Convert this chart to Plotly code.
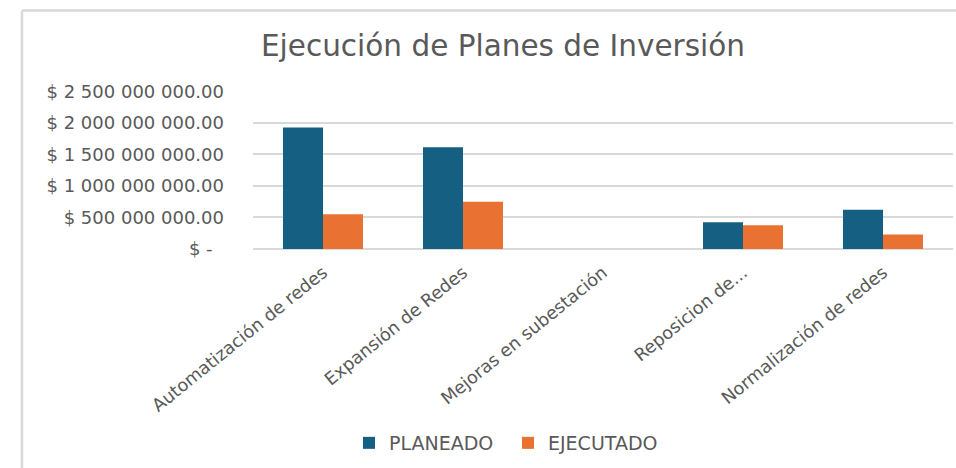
import plotly.graph_objects as go

categorias = ["Automatización de redes", "Expansión de Redes", "Mejoras en subestación",
              "Reposicion de...", "Normalización de redes"]
planeado = [1.927e9, 1.613e9, 0, 0.425e9, 0.621e9]
ejecutado = [0.553e9, 0.748e9, 0, 0.377e9, 0.228e9]
y_ticks = [0, 0.5e9, 1.0e9, 1.5e9, 2.0e9, 2.5e9]
y_ticktext = ["$ -\u00a0\u00a0", "$ 500 000 000.00", "$ 1 000 000 000.00", "$ 1 500 000 000.00",
              "$ 2 000 000 000.00", "$ 2 500 000 000.00"]

W, H = 956, 468
L, R, T, B = 253, 953, 92, 249
GRAY_TXT = "#595959"
GRID = "#D9D9D9"
FONT = "DejaVu Sans"

fig = go.Figure()
fig.add_trace(go.Bar(name="PLANEADO", x=categorias, y=planeado,
                     marker=dict(color="#156082", line=dict(width=0))))
fig.add_trace(go.Bar(name="EJECUTADO", x=categorias, y=ejecutado,
                     marker=dict(color="#E97132", line=dict(width=0))))

def px_to_paper_x(px):
    return (px - L) / (R - L)

def px_to_paper_y(py):
    return (B - py) / (B - T)

fig.update_layout(
    width=W, height=H,
    margin=dict(l=L, r=W - R, t=T - 1, b=H - B, pad=0),
    paper_bgcolor="white", plot_bgcolor="white",
    barmode="group", bargap=0.4286, bargroupgap=0,
    title=dict(text="Ejecución de Planes de Inversión", xref="container", yref="container",
               x=503 / W, xanchor="center", y=1 - 46 / H, yanchor="middle",
               font=dict(family=FONT, size=29.5, color=GRAY_TXT)),
    font=dict(family=FONT, size=18, color=GRAY_TXT),
    showlegend=True,
    legend=dict(orientation="h", xref="container", yref="container",
                x=508 / W, xanchor="center", y=1 - 443 / H, yanchor="middle",
                font=dict(family=FONT, size=19, color=GRAY_TXT),
                itemwidth=30, entrywidth=114, traceorder="normal"),
    xaxis=dict(tickangle=-39, showgrid=False, showline=False, ticks="",
               ticklabelstandoff=9,
               tickfont=dict(family=FONT, size=17.6, color=GRAY_TXT)),
    yaxis=dict(range=[0, 2.506e9], tickvals=y_ticks, ticktext=y_ticktext,
               showgrid=True, gridcolor=GRID, gridwidth=1.5,
               zeroline=True, zerolinecolor=GRID, zerolinewidth=1.5,
               showline=False, ticks="", ticklabelstandoff=28,
               tickfont=dict(family=FONT, size=18, color=GRAY_TXT)),
    shapes=[
        dict(type="line", xref="paper", yref="paper",
             x0=px_to_paper_x(22), x1=px_to_paper_x(22),
             y0=px_to_paper_y(12), y1=px_to_paper_y(520),
             line=dict(color=GRID, width=2.5), layer="below"),
        dict(type="line", xref="paper", yref="paper",
             x0=px_to_paper_x(22), x1=px_to_paper_x(1000),
             y0=px_to_paper_y(12), y1=px_to_paper_y(12),
             line=dict(color=GRID, width=2.5), layer="below"),
    ],
)

fig.write_html("out.html", config={"displayModeBar": False},
               post_script="document.body.style.margin='0';document.body.style.overflow='hidden';")
